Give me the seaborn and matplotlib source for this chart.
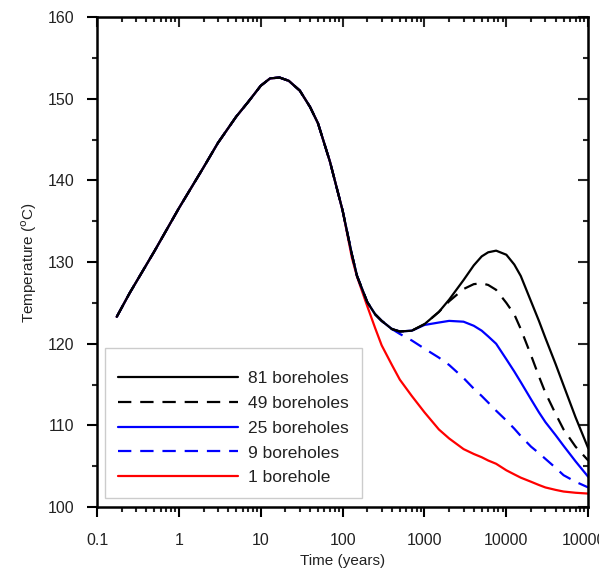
import matplotlib
matplotlib.use("Agg")
import matplotlib.pyplot as plt
import matplotlib.ticker as mticker
import seaborn as sns
import numpy as np

# data
time_years = [0.174, 0.25, 0.5, 1, 2, 3, 5, 7, 10, 13, 17, 22, 30, 40, 50, 70, 100,
              130, 150, 200, 250, 300, 400, 500, 700, 1000, 1500, 2000, 3000, 4000,
              5000, 6000, 7500, 10000, 12500, 15000, 20000, 25000, 30000, 40000,
              50000, 70000, 100000]

temp_81 = [123.3, 126.2, 131.3, 136.6, 141.6, 144.6, 147.8, 149.6, 151.6, 152.5, 152.6,
           152.2, 151.0, 149.0, 147.0, 142.3, 136.3, 130.9, 128.3, 125.1, 123.6, 122.8,
           121.8, 121.5, 121.6, 122.4, 123.9, 125.4, 127.8, 129.6, 130.7, 131.2, 131.4,
           130.9, 129.7, 128.3, 125.2, 122.8, 120.7, 117.5, 114.9, 111.0, 107.2]
temp_49 = temp_81[:27] + [125.2, 126.7, 127.3, 127.4, 127.2, 126.6, 125.0, 123.6, 121.8,
                          118.6, 116.0, 114.0, 111.4, 109.5, 107.4, 105.7]
temp_25 = temp_81[:25] + [122.3, 122.6, 122.8, 122.7, 122.2, 121.6, 120.9, 120.0, 118.1,
                          116.6, 115.3, 113.2, 111.6, 110.4, 108.8, 107.5, 105.6, 103.7]
temp_9 = temp_81[:23] + [121.2, 120.4, 119.4, 118.3, 117.4, 115.8, 114.5, 113.6, 112.8,
                         111.8, 110.6, 109.6, 108.7, 107.4, 106.6, 105.9, 104.8, 103.9,
                         103.1, 102.4]
temp_1 = temp_81[:17] + [130.5, 128.2, 124.6, 121.9, 119.8, 117.4, 115.6, 113.6, 111.6,
                         109.5, 108.4, 107.1, 106.5, 106.1, 105.7, 105.3, 104.5, 104.0,
                         103.6, 103.1, 102.7, 102.4, 102.1, 101.9, 101.75, 101.65]

labels = ["81 boreholes", "49 boreholes", "25 boreholes", "9 boreholes", "1 borehole"]
series = [temp_81, temp_49, temp_25, temp_9, temp_1]
colors = ["black", "black", "blue", "blue", "red"]
dashed = [False, True, False, True, False]

sns.set_style("white")
plt.rcParams["font.family"] = ["Liberation Sans", "DejaVu Sans"]

fig = plt.figure(figsize=(5.99, 5.71), dpi=100)
ax = fig.add_axes([0.162, 0.112, 0.820, 0.858])

# draw the 1 borehole curve first, 81 last (on top)
for lab, temps, col, dsh in reversed(list(zip(labels, series, colors, dashed))):
    ls = (0, (6, 4)) if dsh else "-"
    sns.lineplot(x=time_years, y=temps, ax=ax, color=col, linewidth=1.6,
                 linestyle=ls, label=lab, sort=False)

ax.set_xscale("log")
ax.set_xlim(0.1, 100000)
ax.set_ylim(100, 160)
ax.set_yticks(np.arange(100, 161, 10))
ax.yaxis.set_minor_locator(mticker.MultipleLocator(5))
ax.xaxis.set_major_locator(mticker.LogLocator(base=10, numticks=10))
ax.xaxis.set_minor_locator(mticker.LogLocator(base=10, subs=np.arange(2, 10), numticks=20))
ax.xaxis.set_major_formatter(mticker.FuncFormatter(lambda v, _: "%g" % v))
ax.xaxis.set_minor_formatter(mticker.NullFormatter())

for sp in ax.spines.values():
    sp.set_linewidth(1.8)
    sp.set_color("black")

ax.tick_params(which="major", direction="out", length=7, width=1.5, labelsize=11.5,
               colors="black", labelcolor="#222222", bottom=True, left=True)
ax.tick_params(which="minor", direction="out", length=3.5, width=1.5,
               bottom=True, left=True)
ax.tick_params(axis="x", which="major", pad=12)
ax.tick_params(axis="y", which="major", pad=9.5)

# top and right ticks pointing inward
top = ax.secondary_xaxis("top")
top.xaxis.set_minor_locator(mticker.LogLocator(base=10, subs=np.arange(2, 10), numticks=20))
top.tick_params(which="major", direction="in", length=7, width=1.5, labeltop=False)
top.tick_params(which="minor", direction="in", length=3.5, width=1.5, labeltop=False)
right = ax.secondary_yaxis("right")
right.set_yticks(np.arange(100, 161, 10))
right.yaxis.set_minor_locator(mticker.MultipleLocator(5))
right.tick_params(which="major", direction="in", length=7, width=1.5, labelright=False)
right.tick_params(which="minor", direction="in", length=3.5, width=1.5, labelright=False)

ax.set_xlabel("Time (years)", fontsize=11, labelpad=4, color="#222222")
ax.set_ylabel("Temperature ($^{\\mathrm{o}}$C)", fontsize=11, labelpad=6, color="#222222")

handles, labs = ax.get_legend_handles_labels()
order = [labs.index(l) for l in labels]
leg = ax.legend([handles[i] for i in order], [labs[i] for i in order],
                loc="lower left", bbox_to_anchor=(0.016, 0.018), borderaxespad=0,
                fontsize=12.5, handlelength=6.9, handletextpad=0.62, labelspacing=0.55,
                fancybox=False, framealpha=1, edgecolor="#cccccc", borderpad=0.75,
                title=" ", title_fontsize=1)
leg.get_frame().set_linewidth(1.0)
for t in leg.get_texts():
    t.set_color("#222222")

fig.savefig("out.png", dpi=100)
